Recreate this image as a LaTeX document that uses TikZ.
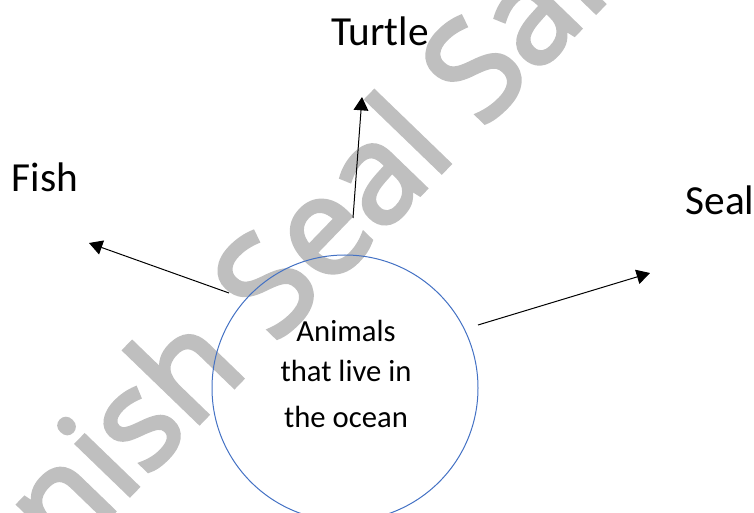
\documentclass[tikz,border=0pt]{standalone}
\usepackage{fontspec}
\setmainfont{Carlito}
\newfontfamily\wmfont{Open Sans}[FakeBold=3]
\usetikzlibrary{arrows.meta}
\definecolor{oceanblue}{RGB}{68,114,196}
\definecolor{wmgray}{RGB}{191,191,191}
\begin{document}
\begin{tikzpicture}[x=0.75pt, y=-0.75pt,
  lbl/.style={inner sep=0, anchor=base, font=\fontsize{31}{37}\selectfont},
  inlbl/.style={inner sep=0, anchor=base, font=\fontsize{23}{28}\selectfont},
  arr/.style={line width=0.75pt, -{Triangle[length=10pt, width=11pt]}}]
\useasboundingbox (0,0) rectangle (754,513);
\clip (0,0) rectangle (754,513);
\node[anchor=base west, inner sep=0, rotate=46, text=wmgray, font=\wmfont\fontsize{103}{103}\selectfont] (wmark) at (-101,734){Spanish Seal Sales};
\node[circle, draw=oceanblue, line width=0.75pt, minimum size=199.5pt, inner sep=0] (ocean) at (345,388){};
\node[inlbl] (line1) at (346,342){Animals};
\node[inlbl] (line2) at (346,382){that live in};
\node[inlbl] (line3) at (346,428){the ocean};
\node[lbl] (turtle) at (380,46){Turtle};
\node[lbl] (fish) at (45,192){Fish};
\node[lbl] (seal) at (720,215){Seal};
\coordinate (turtlet) at (353,218);
\coordinate (turtleh) at (362,97);
\coordinate (fisht) at (229,293);
\coordinate (fishh) at (89,243);
\coordinate (sealt) at (478,325);
\coordinate (sealh) at (650,273);
\draw[arr](turtlet) -- (turtleh);
\draw[arr](fisht) -- (fishh);
\draw[arr](sealt) -- (sealh);
\end{tikzpicture}
\end{document}
